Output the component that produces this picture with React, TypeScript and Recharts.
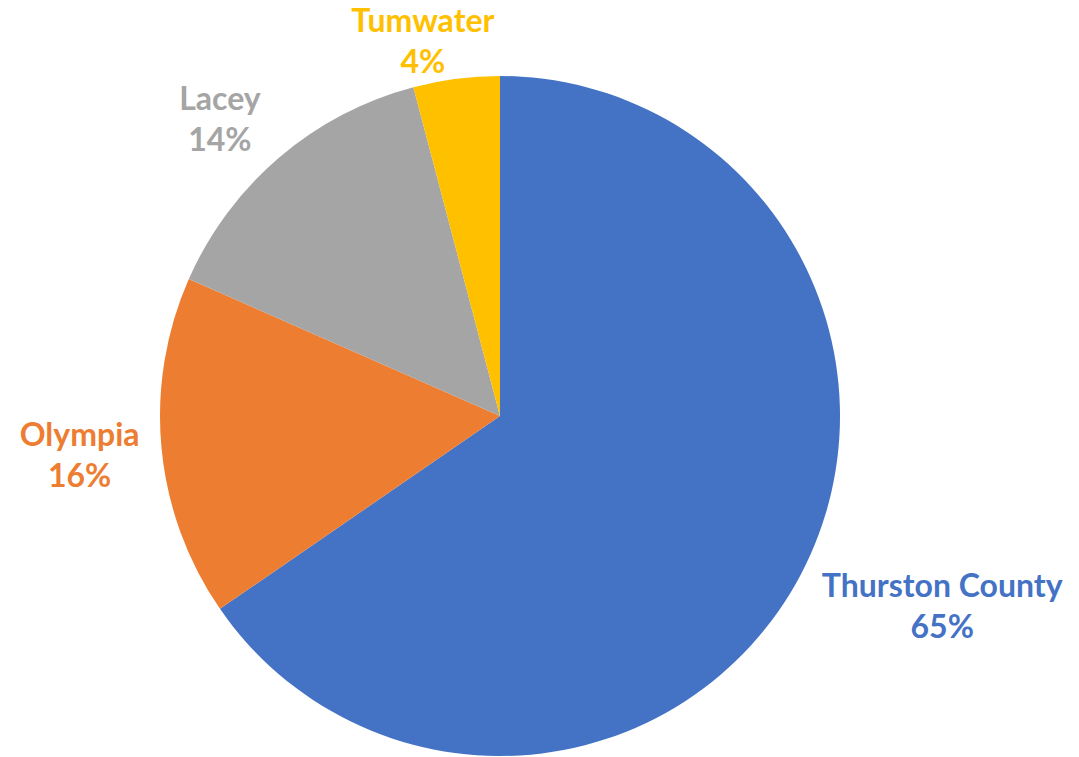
import { PieChart, Pie, Cell } from 'recharts'

const names = ['Thurston County', 'Olympia', 'Lacey', 'Tumwater']
const values = [65.4, 16.2, 14.3, 4.1]
const colors = ['#4472C4', '#ED7D31', '#A5A5A5', '#FFC000']

const data = names.map((name, i) => ({ name, value: values[i] }))

const FONT = 'bold 32px Lato'
const RAD = Math.PI / 180

let ctx: CanvasRenderingContext2D | null = null
function textWidth(s: string) {
  if (!ctx) ctx = document.createElement('canvas').getContext('2d')
  if (!ctx) return s.length * 16
  ctx.font = FONT
  return ctx.measureText(s).width
}

const clamp = (v: number) => Math.max(-1, Math.min(1, v))

// labels sit outside the slice, pushed away from the pie along the mid angle
function renderLabel(props: any) {
  const { cx, cy, midAngle, outerRadius, percent, index } = props
  const name = names[index]
  const pct = `${Math.round(percent * 100)}%`
  const cos = Math.cos(-midAngle * RAD)
  const sin = Math.sin(-midAngle * RAD)
  const w = Math.max(textWidth(name), textWidth(pct))
  const bx = cx + (outerRadius + 10) * cos + (w / 2 + 12) * clamp(cos * 3)
  const by = cy + outerRadius * sin + 35 * clamp(sin * 3)
  return (
    <text x={bx} textAnchor="middle" fill={colors[index]} style={{ font: FONT }}>
      <tspan x={bx} y={by - 12}>{name}</tspan>
      <tspan x={bx} y={by + 29}>{pct}</tspan>
    </text>
  )
}

export default function App() {
  return (
    <div style={{ position: 'absolute', left: 0, top: 0, background: '#fff' }}>
      <PieChart width={1079} height={757} margin={{ top: 0, right: 0, bottom: 0, left: 0 }}>
        <Pie
          data={data}
          dataKey="value"
          nameKey="name"
          cx={500}
          cy={416}
          outerRadius={340}
          startAngle={90}
          endAngle={-270}
          stroke="none"
          labelLine={false}
          label={renderLabel}
          isAnimationActive={false}
        >
          {data.map((_, i) => <Cell key={i} fill={colors[i]} />)}
        </Pie>
      </PieChart>
    </div>
  )
}
